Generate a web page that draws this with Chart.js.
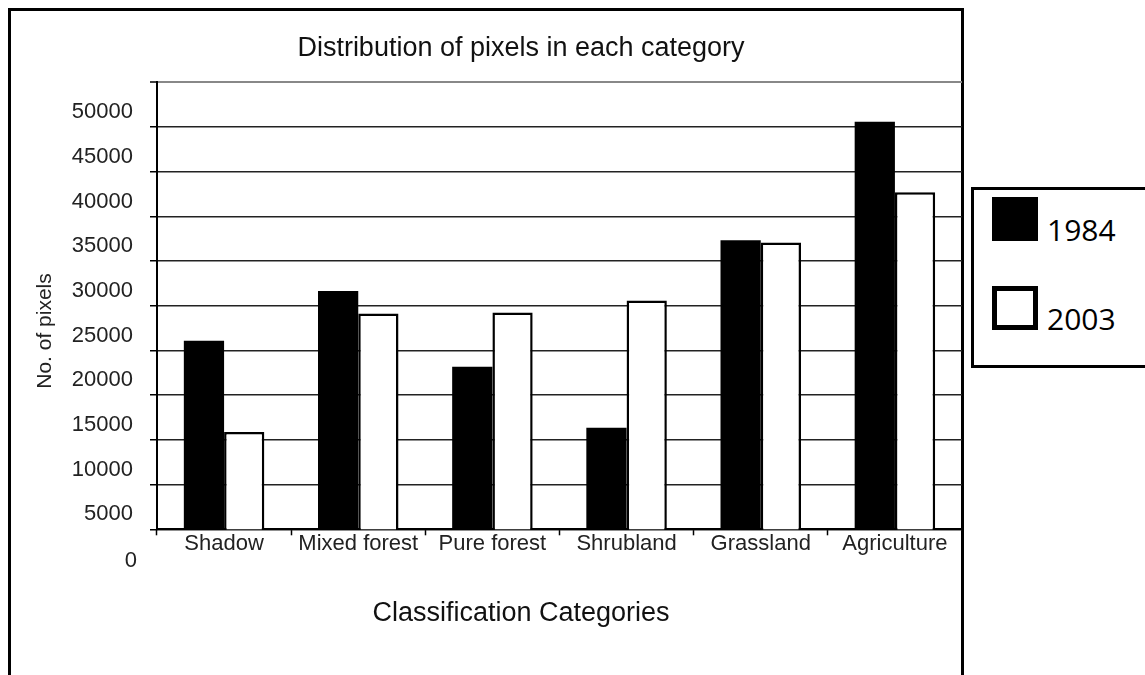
<!DOCTYPE html>
<html>
<head>
<meta charset="utf-8">
<script src="https://cdn.jsdelivr.net/npm/chart.js@4"></script>
<style>
    html, body { margin: 0; padding: 0; background: #fff; overflow: hidden; }
    #frame { position: absolute; left: 8px; top: 8px; width: 956px; height: 720px; border: 3px solid #000; box-sizing: border-box; }
    #wrap { position: absolute; left: 0; top: 0; width: 1145px; height: 675px; }
    #legend { position: absolute; left: 971px; top: 187px; width: 200px; height: 181px; border: 3px solid #000; box-sizing: border-box; background: #fff; font-family: 'Open Sans', sans-serif; font-size: 30px; }
    #legend .box { position: absolute; left: 18px; width: 46px; height: 44px; box-sizing: border-box; }
    #legend .txt { position: absolute; left: 73px; line-height: 30px; color: #000; }
</style>
</head>
<body>
<div id="frame"></div>
<div id="wrap"><canvas id="chart"></canvas></div>
<div id="legend"></div>
<script>
const categories = ['Shadow', 'Mixed forest', 'Pure forest', 'Shrubland', 'Grassland', 'Agriculture'];
const seriesNames = ['1984', '2003'];
const pixels1984 = [26100, 31650, 23200, 16350, 37350, 50600];
const pixels2003 = [15900, 29150, 29250, 30600, 37100, 42700];

// y axis as drawn: gridlines every 5000, the top one unlabelled,
// and a lone "0" printed under the axis line
const yMin = 5000;
const yMax = 55000;
const yStep = 5000;
const belowAxisLabel = '0';

const chartTitle = 'Distribution of pixels in each category';
const xTitle = 'Classification Categories';
const yTitle = 'No. of pixels';

const FONT = '"Liberation Sans", Arial, sans-serif';

// texts the reference puts slightly off the usual spots
const extraText = {
    id: 'extraText',
    afterLayout(chart) {
        // widen the y axis box to the left so its labels are not clipped,
        // without moving the title centre
        chart.scales.y.left = 40;
    },
    afterDraw(chart) {
        const ctx = chart.ctx;
        const y = chart.scales.y;
        ctx.save();
        ctx.fillStyle = '#222';
        ctx.font = '22px ' + FONT;
        ctx.textAlign = 'right';
        ctx.textBaseline = 'middle';
        ctx.fillText(belowAxisLabel, y.right - 20, y.getPixelForValue(0) + y.options.ticks.labelOffset + 2);

        ctx.translate(45, 331);
        ctx.rotate(-Math.PI / 2);
        ctx.textAlign = 'center';
        ctx.font = '21px ' + FONT;
        ctx.fillText(yTitle, 0, 0);
        ctx.restore();
    }
};

const data = {
    labels: categories,
    datasets: [{
            label: seriesNames[0],
            data: pixels1984,
            backgroundColor: '#000',
            borderColor: '#000',
            borderWidth: 0,
        },
        {
            label: seriesNames[1],
            data: pixels2003,
            backgroundColor: '#fff',
            borderColor: '#000',
            borderWidth: 2.5,
            borderSkipped: 'bottom',
        },
    ]
};

const config = {
    type: 'bar',
    data: data,
    options: {
        responsive: true,
        maintainAspectRatio: false,
        animation: false,
        datasets: {
            bar: {
                categoryPercentage: 0.6,
                barPercentage: 1.0,
            }
        },
        layout: {
            padding: { left: 80, right: 183, top: 0, bottom: 0 }
        },
        plugins: {
            legend: { display: false },
            tooltip: { enabled: false },
            title: {
                display: true,
                text: chartTitle,
                color: '#111',
                font: { family: FONT, size: 27, weight: 'normal' },
                padding: { top: 32, bottom: 18 },
            },
            subtitle: {
                display: true,
                position: 'bottom',
                text: xTitle,
                color: '#111',
                font: { family: FONT, size: 27, weight: 'normal' },
                padding: { top: 28.5, bottom: 44.8 },
            },
        },
        scales: {
            x: {
                afterFit: (s) => { s.height = 40; },
                grid: {
                    offset: true,
                    drawOnChartArea: false,
                    drawTicks: true,
                    tickLength: 6,
                    tickColor: '#000',
                    tickWidth: 1.5,
                },
                border: { display: true, color: '#000', width: 2 },
                ticks: {
                    color: '#222',
                    padding: -5,
                    autoSkip: false,
                    maxRotation: 0,
                    font: { family: FONT, size: 22 },
                },
            },
            y: {
                min: yMin,
                max: yMax,
                afterFit: (s) => { s.width = 77; },
                grid: {
                    color: (c) => c.tick && c.tick.value === yMax ? '#888' : '#222',
                    lineWidth: (c) => c.tick && c.tick.value === yMax ? 2 : 1.5,
                    drawTicks: true,
                    tickLength: 7,
                    tickColor: '#000',
                    tickWidth: 1.5,
                },
                border: { display: true, color: '#000', width: 2 },
                ticks: {
                    stepSize: yStep,
                    color: '#222',
                    padding: 17,
                    labelOffset: -15,
                    autoSkip: false,
                    font: { family: FONT, size: 22 },
                    callback: (v) => v === yMax ? '' : String(v),
                },
            },
        },
    },
    plugins: [extraText],
};

let myChart = new Chart(document.getElementById('chart'), config);

// legend box at the right, built from the datasets
let legend = document.getElementById('legend');
myChart.data.datasets.forEach((ds, i) => {
    let box = document.createElement('span');
    box.className = 'box';
    box.style.top = (7 + i * 89) + 'px';
    box.style.background = ds.backgroundColor;
    if (ds.borderWidth) box.style.border = '5px solid ' + ds.borderColor;
    legend.appendChild(box);

    let txt = document.createElement('span');
    txt.className = 'txt';
    txt.style.top = (25 + i * 89) + 'px';
    txt.textContent = ds.label;
    legend.appendChild(txt);
});
</script>
</body>
</html>
